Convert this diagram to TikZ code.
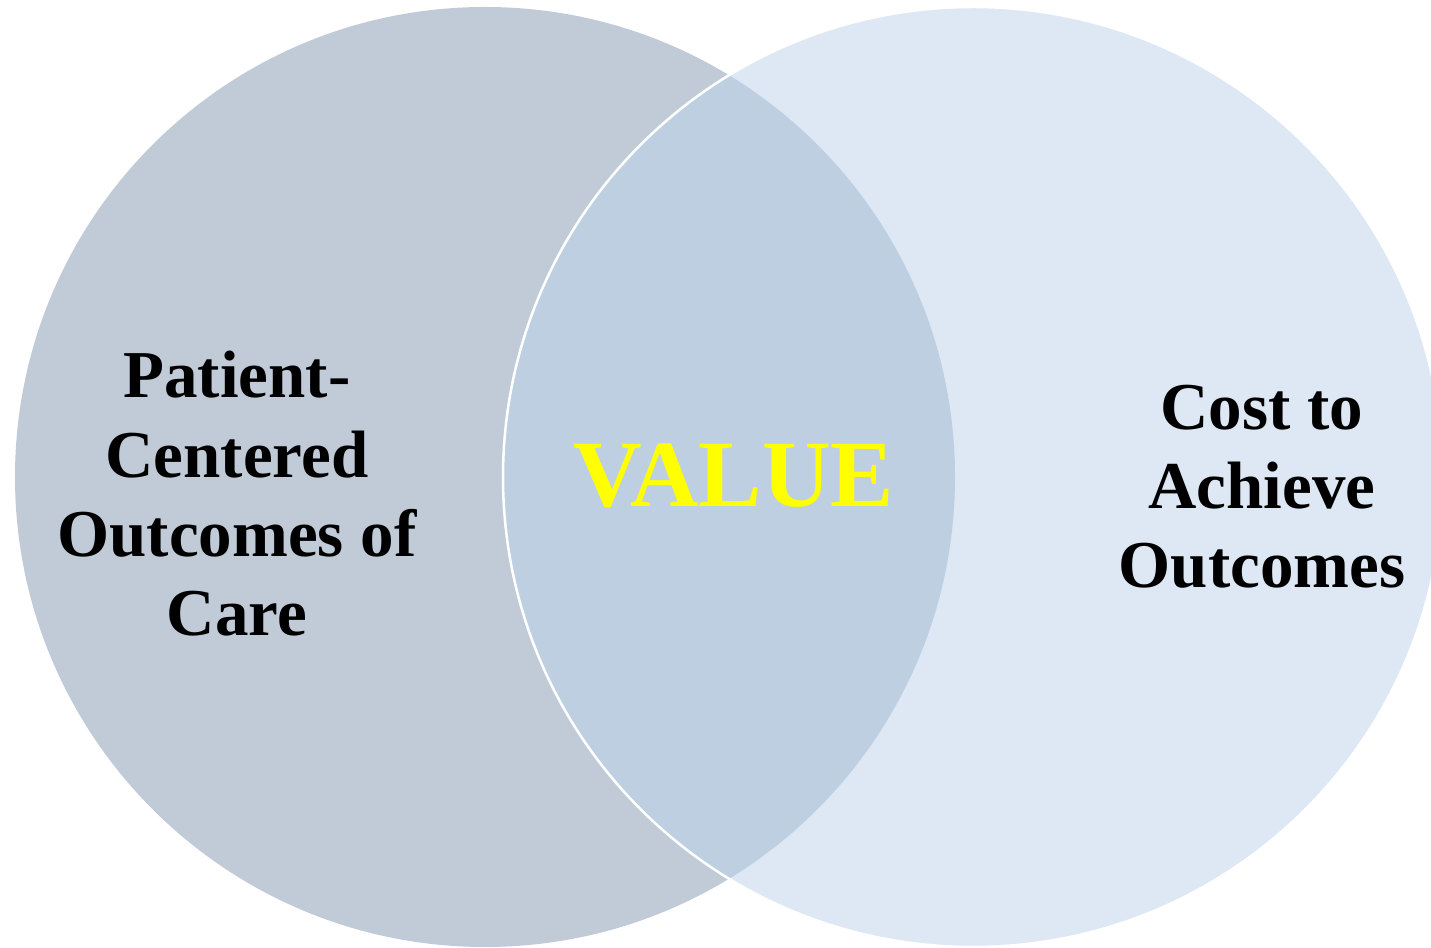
\documentclass[tikz,border=0pt]{standalone}
\usepackage{fontspec}
\setmainfont{Liberation Serif}
\definecolor{leftc}{HTML}{C1CBD8}
\definecolor{rightc}{HTML}{DDE8F4}
\definecolor{overc}{HTML}{BECFE2}
\definecolor{valc}{HTML}{FFFF00}
\tikzset{
  lbl/.style={anchor=base, inner sep=0pt, font=\fontsize{67}{80}\selectfont\bfseries, text=black},
  vlbl/.style={anchor=base, inner sep=0pt, font=\fontsize{95}{100}\selectfont\bfseries, text=valc}
}
\begin{document}
\begin{tikzpicture}[x=1pt,y=1pt]
\useasboundingbox (0,0) rectangle (1431,947);
\fill[white] (0,0) rectangle (1431,947);
\coordinate (cl) at (485,470);
\coordinate (cr) at (973,470);
\fill[leftc] (cl) circle (470);
\fill[rightc] (cr) circle (470);
\begin{scope}
  \clip (cl) circle (470);
  \fill[overc] (cr) circle (470);
\end{scope}
\draw[white, line width=2.5pt] (cr) circle (470);
\node[lbl] (l1) at (237,549) {Patient-};
\node[lbl] (l2) at (237,469) {Centered};
\node[lbl] (l3) at (237,390) {Outcomes of};
\node[lbl] (l4) at (237,311) {Care};
\node[lbl] (r1) at (1262,517) {Cost to};
\node[lbl] (r2) at (1262,438) {Achieve};
\node[lbl] (r3) at (1262,359) {Outcomes};
\node[vlbl] (v) at (734,440) {VALUE};
\end{tikzpicture}
\end{document}
